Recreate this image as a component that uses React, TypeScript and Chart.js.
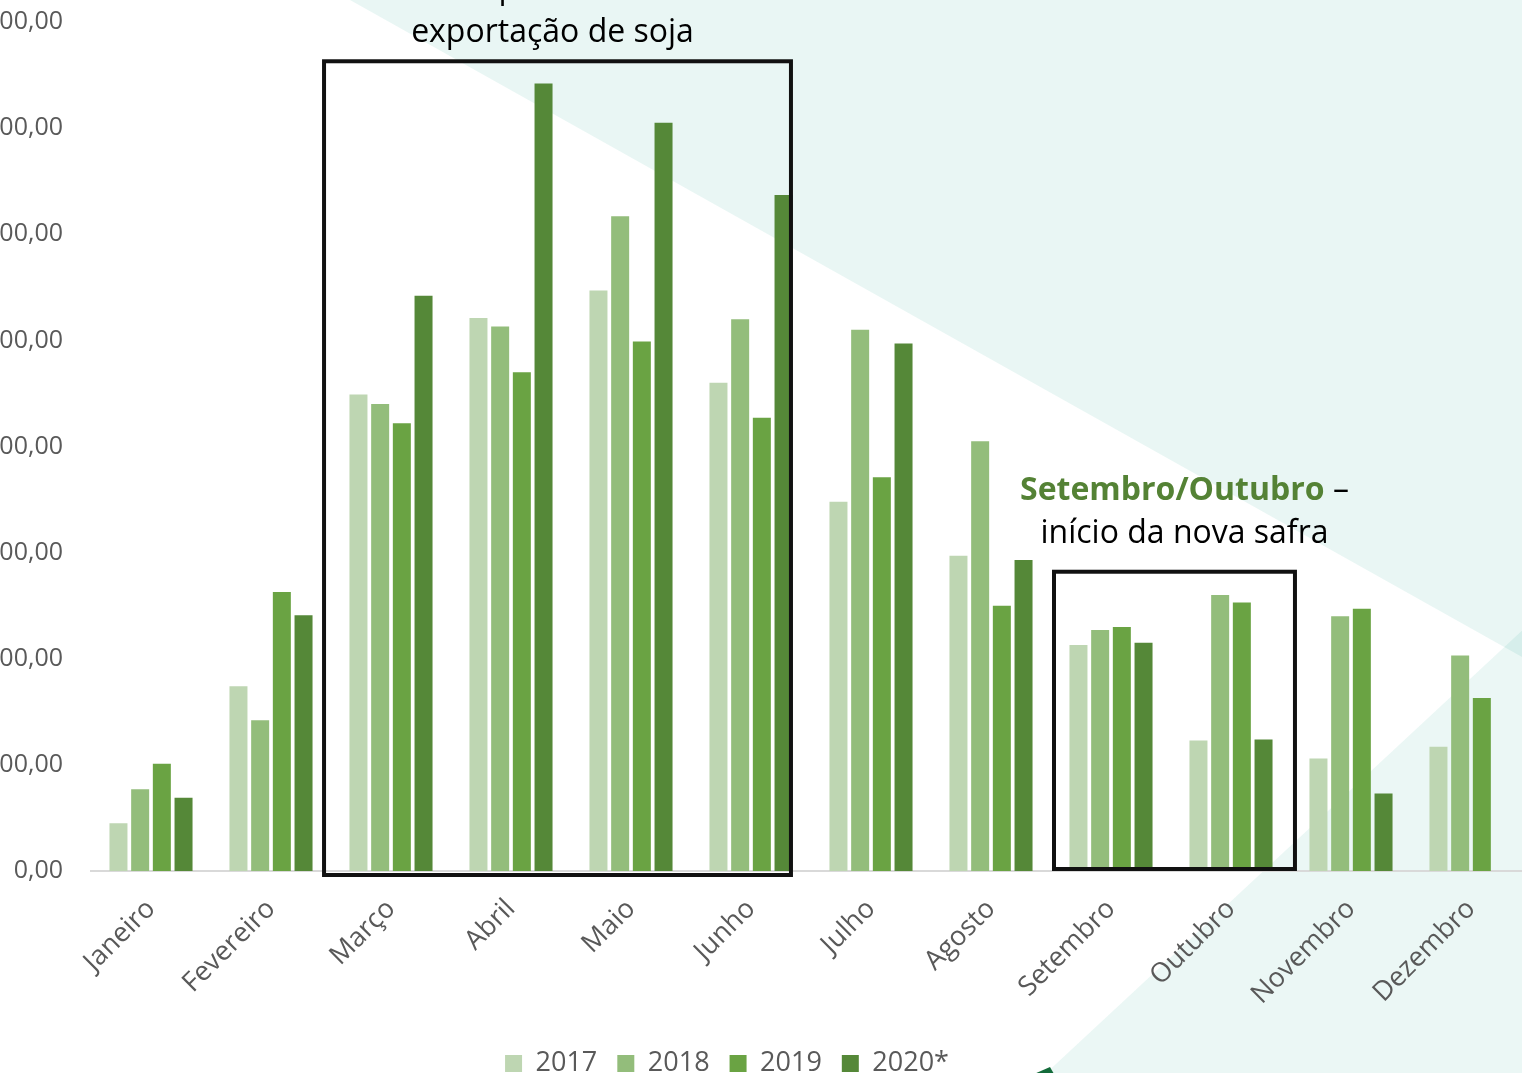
import React, { useEffect, useRef } from "react";
import { Chart, registerables } from "chart.js";

Chart.register(...registerables);

const months = [
  "Janeiro", "Fevereiro", "Março", "Abril", "Maio", "Junho",
  "Julho", "Agosto", "Setembro", "Outubro", "Novembro", "Dezembro",
];
const v2017 = [45, 174, 449, 521, 547, 460, 348, 297, 213, 123, 106, 117];
const v2018 = [77, 142, 440, 513, 617, 520, 510, 405, 227, 260, 240, 203];
const v2019 = [101, 263, 422, 470, 499, 427, 371, 250, 230, 253, 247, 163];
const v2020 = [69, 241, 542, 742, 705, 637, 497, 293, 215, 124, 73, null];
const seriesLabels = ["2017", "2018", "2019", "2020*"];
const seriesColors = ["#bed6b2", "#93bd7b", "#6aa343", "#558838"];
const yMin = 0;
const yMax = 800;
const yStep = 100;

const FONT = "'Open Sans', sans-serif";
const OFF = 77; // canvas starts 77px left of the visible page area
const CW = 1608;
const CH = 1087;

const bgPlugin = {
  id: "bg",
  beforeDraw(chart: any) {
    const ctx = chart.ctx;
    ctx.save();
    ctx.fillStyle = "#ffffff";
    ctx.fillRect(0, 0, chart.width, chart.height);
    // upper right teal triangle
    ctx.fillStyle = "rgba(20,160,135,0.095)";
    ctx.beginPath();
    ctx.moveTo(350 + OFF, 0);
    ctx.lineTo(1540 + OFF, 0);
    ctx.lineTo(1540 + OFF, 667);
    ctx.closePath();
    ctx.fill();
    // lower right teal triangle
    ctx.fillStyle = "rgba(20,160,135,0.085)";
    ctx.beginPath();
    ctx.moveTo(1540 + OFF, 614);
    ctx.lineTo(1540 + OFF, 1090);
    ctx.lineTo(1028 + OFF, 1090);
    ctx.closePath();
    ctx.fill();
    // small dark green corner
    ctx.fillStyle = "#136b3a";
    ctx.beginPath();
    ctx.moveTo(1034 + OFF, 1074);
    ctx.lineTo(1050 + OFF, 1067);
    ctx.lineTo(1054 + OFF, 1074);
    ctx.closePath();
    ctx.fill();
    ctx.restore();
  },
};

const annotPlugin = {
  id: "annot",
  afterDraw(chart: any) {
    const ctx = chart.ctx;
    const x = chart.scales.x;
    const y = chart.scales.y;
    const w = x.getPixelForValue(1) - x.getPixelForValue(0);
    ctx.save();
    ctx.strokeStyle = "#111111";
    ctx.lineWidth = 4;
    // box Março - Junho
    const b1l = x.getPixelForValue(2) - 0.558 * w;
    const b1r = x.getPixelForValue(5) + 0.333 * w;
    const b1t = y.getPixelForValue(763);
    const b1b = y.getPixelForValue(0) + 4;
    ctx.strokeRect(b1l, b1t, b1r - b1l, b1b - b1t);
    // box Setembro - Outubro
    const b2l = x.getPixelForValue(8) - 0.475 * w;
    const b2r = x.getPixelForValue(9) + 0.533 * w;
    const b2t = y.getPixelForValue(282);
    const b2b = y.getPixelForValue(0) - 2;
    ctx.strokeRect(b2l, b2t, b2r - b2l, b2b - b2t);

    // text 1
    ctx.textAlign = "center";
    ctx.textBaseline = "alphabetic";
    ctx.fillStyle = "#000000";
    ctx.font = `32px ${FONT}`;
    const c1 = (b1l + b1r) / 2 - 5;
    ctx.fillText("pico de", c1, -2);
    ctx.fillText("exportação de soja", c1, 42);

    // text 2
    const c2 = (b2l + b2r) / 2 + 10;
    ctx.font = `bold 32px ${FONT}`;
    const p1 = "Setembro/Outubro";
    const wBold = ctx.measureText(p1).width;
    ctx.font = `32px ${FONT}`;
    const p2 = " –";
    const wNorm = ctx.measureText(p2).width;
    const start = c2 - (wBold + wNorm) / 2;
    ctx.textAlign = "left";
    ctx.font = `bold 32px ${FONT}`;
    ctx.fillStyle = "#548235";
    ctx.fillText(p1, start, 500);
    ctx.font = `32px ${FONT}`;
    ctx.fillStyle = "#000000";
    ctx.fillText(p2, start + wBold, 500);
    ctx.textAlign = "center";
    ctx.fillText("início da nova safra", c2, 543);
    ctx.restore();
  },
};

export default function App() {
  const ref = useRef<HTMLCanvasElement>(null);
  useEffect(() => {
    const canvas = ref.current!;
    const seriesData = [v2017, v2018, v2019, v2020];
    const chart = new Chart(canvas, {
      type: "bar",
      data: {
        labels: months,
        datasets: seriesLabels.map((label, i) => ({
          label,
          data: seriesData[i],
          backgroundColor: seriesColors[i],
          borderWidth: 0,
          categoryPercentage: 0.723,
          barPercentage: 0.83,
        })),
      },
      options: {
        animation: false,
        responsive: false,
        maintainAspectRatio: false,
        layout: { padding: { top: 22, right: 0, left: 0, bottom: 0 } },
        plugins: {
          tooltip: { enabled: false },
          legend: {
            position: "bottom",
            labels: {
              boxWidth: 17,
              boxHeight: 17,
              padding: 20,
              color: "#595959",
              font: { family: FONT, size: 27 },
            },
          },
        },
        scales: {
          x: {
            grid: { display: false },
            border: { display: true, color: "#d9d9d9", width: 2 },
            ticks: {
              color: "#595959",
              font: { family: FONT, size: 27 },
              minRotation: 45,
              maxRotation: 45,
              autoSkip: false,
              padding: 14,
            },
            afterFit(scale: any) {
              scale.height = 159;
            },
          },
          y: {
            min: yMin,
            max: yMax,
            grid: { display: false, drawTicks: true, tickLength: 28 },
            border: { display: false },
            ticks: {
              stepSize: yStep,
              color: "#595959",
              font: { family: FONT, size: 25 },
              padding: 0,
              callback: (v: any) => Number(v).toFixed(2).replace(".", ","),
            },
            afterFit(scale: any) {
              scale.width = 91 + OFF;
            },
          },
        },
      },
      plugins: [bgPlugin, annotPlugin],
    });
    return () => chart.destroy();
  }, []);
  return (
    <div
      style={{
        position: "absolute",
        left: 0,
        top: 0,
        width: 1522,
        height: 1073,
        overflow: "hidden",
        background: "#ffffff",
      }}
    >
      <canvas
        ref={ref}
        width={CW}
        height={CH}
        style={{ position: "absolute", left: -OFF, top: 0, width: CW, height: CH, display: "block" }}
      />
    </div>
  );
}
